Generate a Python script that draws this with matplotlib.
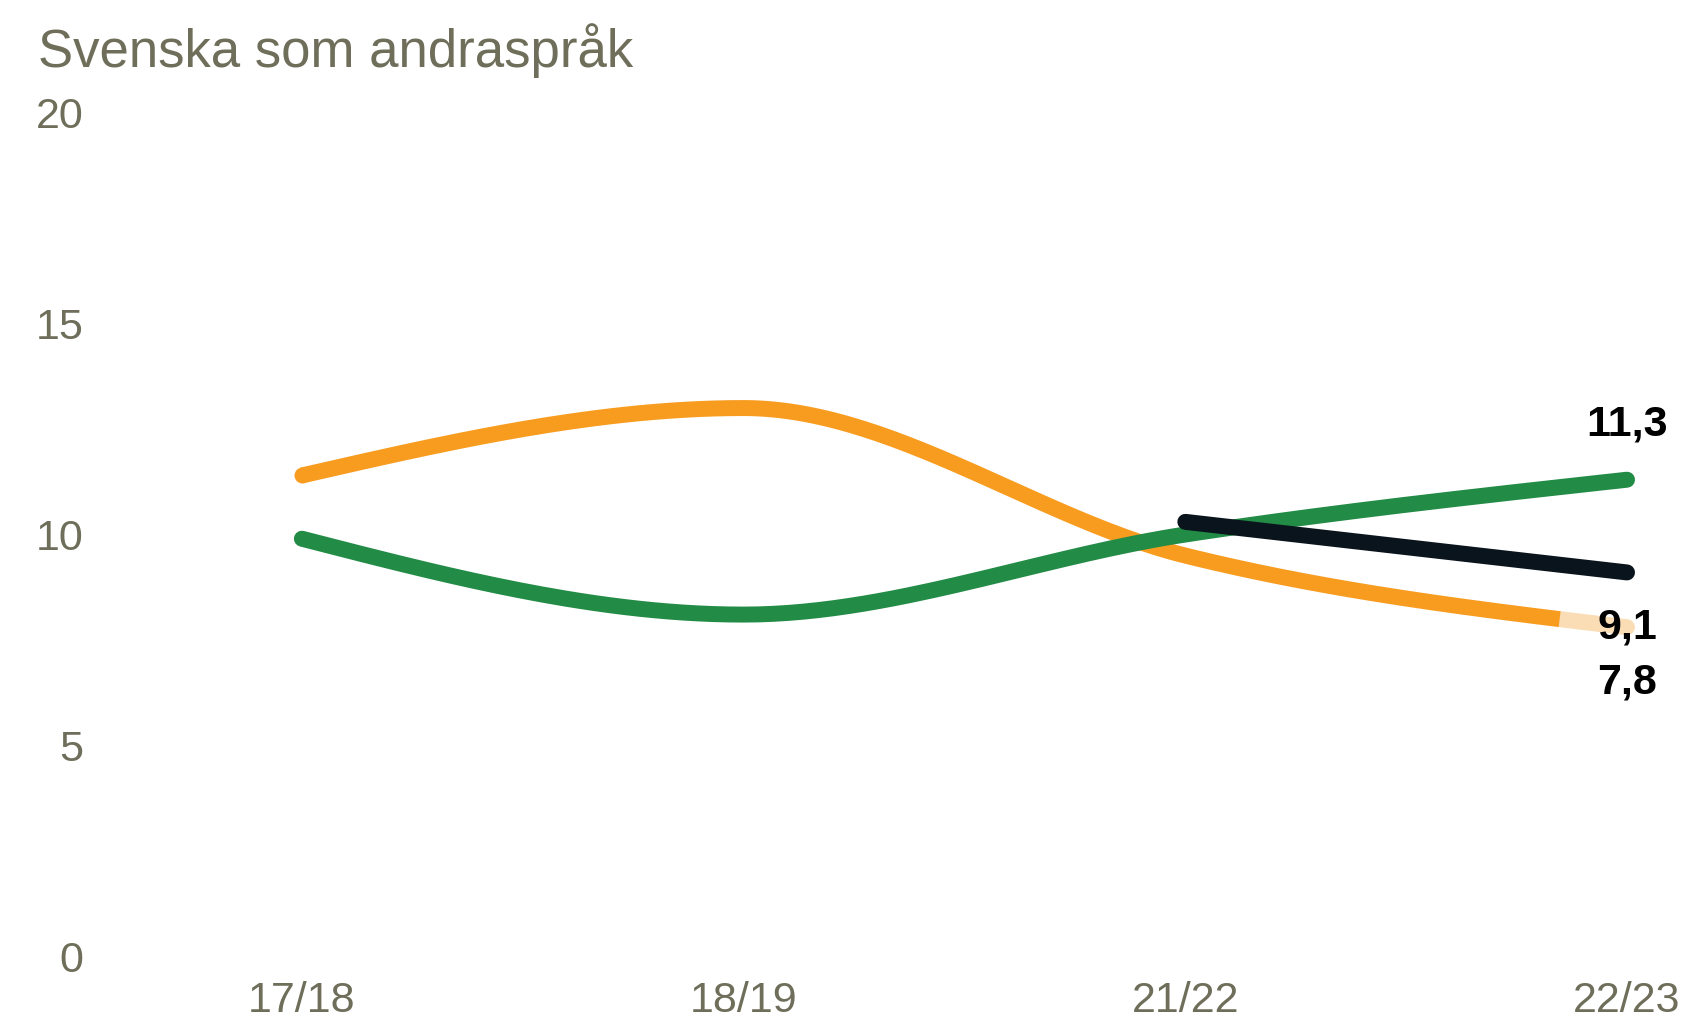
import numpy as np
import matplotlib.pyplot as plt

plt.rcParams['font.family'] = ['Liberation Sans', 'DejaVu Sans']

terms = ["17/18", "18/19", "21/22", "22/23"]
orange_vals = [11.4, 13.0, 9.5, 7.8]
green_vals = [9.9, 8.1, 10.0, 11.3]
black_terms = ["21/22", "22/23"]
black_vals = [10.3, 9.1]

ORANGE = "#F89C1F"
ORANGE_LIGHT = "#FADDB5"
GREEN = "#228B45"
BLACK = "#0A141C"
GREY = "#6E6E5A"
LW = 11.5


def monotone(xs, ys, n=60):
    # monotone cubic interpolation (same slopes as d3.curveMonotoneX)
    xs = np.asarray(xs, float)
    ys = np.asarray(ys, float)
    k = len(xs)
    if k < 3:
        return xs, ys
    h = np.diff(xs)
    s = np.diff(ys) / h
    t = np.zeros(k)
    for i in range(1, k - 1):
        p = (s[i - 1] * h[i] + s[i] * h[i - 1]) / (h[i - 1] + h[i])
        t[i] = (np.sign(s[i - 1]) + np.sign(s[i])) * min(abs(s[i - 1]), abs(s[i]), 0.5 * abs(p))
    t[0] = (3 * s[0] - t[1]) / 2
    t[-1] = (3 * s[-1] - t[-2]) / 2
    px, py = [], []
    for i in range(k - 1):
        u = np.linspace(0, 1, n)
        h00 = 2 * u**3 - 3 * u**2 + 1
        h10 = u**3 - 2 * u**2 + u
        h01 = -2 * u**3 + 3 * u**2
        h11 = u**3 - u**2
        px.append(xs[i] + u * h[i])
        py.append(h00 * ys[i] + h10 * h[i] * t[i] + h01 * ys[i + 1] + h11 * h[i] * t[i + 1])
    return np.concatenate(px), np.concatenate(py)


fig = plt.figure(figsize=(16.84, 10.22), dpi=100)
ax = fig.add_axes([100 / 1684, 66 / 1022, 1550 / 1684, 843 / 1022])

xi = np.arange(len(terms))
bi = np.array([terms.index(t) for t in black_terms])

# orange: the last stretch of the final segment is drawn faded
split = 2.86
ox, oy = monotone(xi, orange_vals)
solid = ox <= split
fade = ox >= split - 0.02
ax.plot(ox[fade], oy[fade], color=ORANGE_LIGHT, lw=LW, solid_capstyle='round',
        clip_on=False, zorder=2)
ax.plot(ox[solid], oy[solid], color=ORANGE, lw=LW, solid_capstyle='butt', clip_on=False, zorder=3)
ax.plot(xi[0], orange_vals[0], 'o', color=ORANGE, ms=LW, mew=0, clip_on=False, zorder=3)

gx, gy = monotone(xi, green_vals)
ax.plot(gx, gy, color=GREEN, lw=LW, solid_capstyle='round', clip_on=False, zorder=4)

ax.plot(bi, black_vals, color=BLACK, lw=LW, solid_capstyle='round', clip_on=False, zorder=5)

# end labels
lab = dict(textcoords='offset points', ha='center', va='center',
           fontsize=31, fontweight='bold', color='black')
ax.annotate(f"{green_vals[-1]:.1f}".replace('.', ','), (xi[-1], green_vals[-1]),
            xytext=(0, 40), **lab)
ax.annotate(f"{black_vals[-1]:.1f}".replace('.', ','), (bi[-1], black_vals[-1]),
            xytext=(0, -40), **lab)
ax.annotate(f"{orange_vals[-1]:.1f}".replace('.', ','), (xi[-1], orange_vals[-1]),
            xytext=(0, -40), **lab)

ax.set_xlim(-0.457, 3.052)
ax.set_ylim(0, 20)
ax.set_xticks(xi)
ax.set_xticklabels(terms)
ax.set_yticks([0, 5, 10, 15, 20])
ax.tick_params(length=0, labelsize=31, labelcolor=GREY)
ax.tick_params(axis='x', pad=18)
ax.tick_params(axis='y', pad=12)
for sp in ax.spines.values():
    sp.set_visible(False)

fig.text(38 / 1684, 1 - 67 / 1022, "Svenska som andraspråk", fontsize=38,
         color=GREY, va='baseline', ha='left')

fig.savefig("out.png", dpi=100)
